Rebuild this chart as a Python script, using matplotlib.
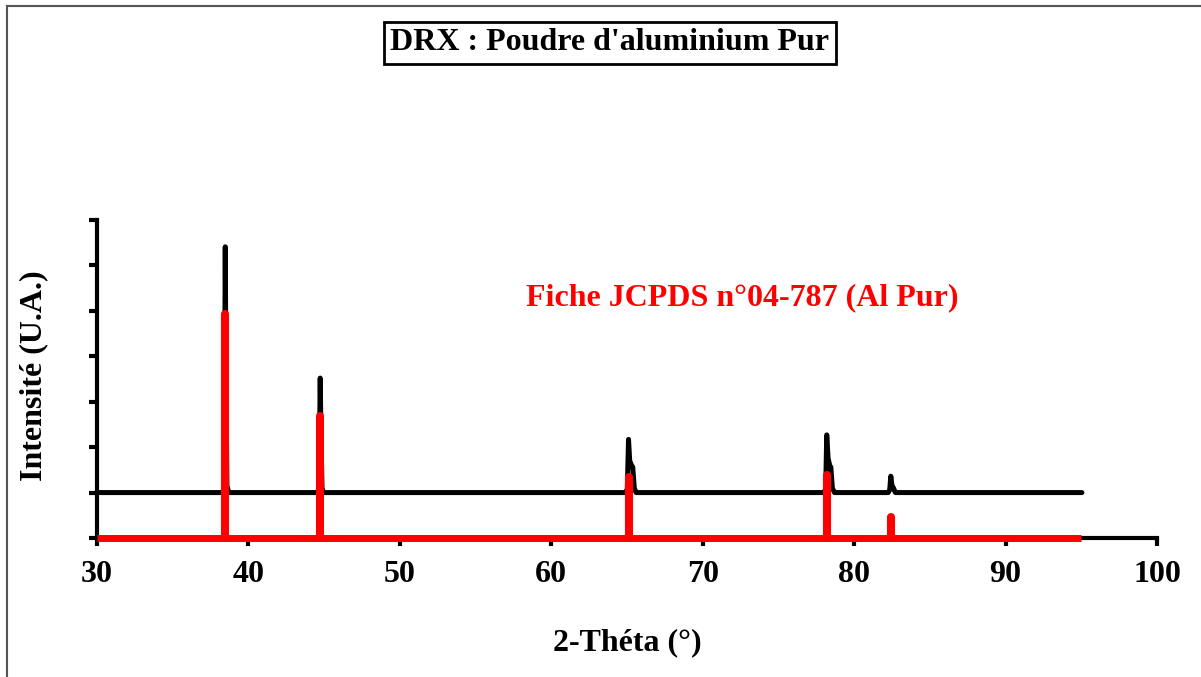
import numpy as np
import matplotlib
matplotlib.use("Agg")
import matplotlib.pyplot as plt
from matplotlib.lines import Line2D

plt.rcParams['font.family'] = ['Liberation Serif', 'DejaVu Serif']

# measured pattern (2-theta, intensity in arbitrary units, baseline at 1)
theta_meas = [30.0, 38.30, 38.40, 38.47, 38.52, 38.58, 38.70,
              44.55, 44.66, 44.74, 44.80, 44.86, 44.95,
              64.90, 65.02, 65.10, 65.18, 65.30, 65.38, 65.48, 65.60,
              78.00, 78.12, 78.19, 78.28, 78.40, 78.46, 78.56, 78.70,
              82.25, 82.35, 82.42, 82.50, 82.60, 82.72,
              95.04]
int_meas = [1.00, 1.00, 1.12, 6.41, 3.20, 1.15, 1.00,
            1.00, 1.10, 3.52, 2.10, 1.10, 1.00,
            1.00, 1.08, 2.17, 1.70, 1.60, 1.56, 1.10, 1.00,
            1.00, 1.08, 2.27, 1.75, 1.58, 1.56, 1.10, 1.00,
            1.00, 1.06, 1.36, 1.15, 1.10, 1.00,
            1.00]

# JCPDS 04-787 reference sticks
theta_ref = [38.47, 44.74, 65.13, 78.23, 82.44]
int_ref = [4.93, 2.69, 1.34, 1.39, 0.46]
ref_range = [30, 95]

x_ticks = [30, 40, 50, 60, 70, 80, 90, 100]
y_ticks = [0, 1, 2, 3, 4, 5, 6, 7]

FS = 23

fig = plt.figure(figsize=(12.01, 6.77), dpi=100)
ax = fig.add_axes([97 / 1201, 1 - 538 / 677, 1060 / 1201, 318 / 677])

ax.plot(theta_meas, int_meas, color='black', lw=3.6,
        solid_capstyle='round', solid_joinstyle='round', zorder=3)

ax.plot(ref_range, [0, 0], color='red', lw=5.0, solid_capstyle='butt',
        clip_on=False, zorder=4)
for t, h in zip(theta_ref, int_ref):
    ax.plot([t, t], [0, h], color='red', lw=5.8, solid_capstyle='round',
            clip_on=False, zorder=4)

ax.set_xlim(30, 100)
ax.set_ylim(0, 7)
ax.set_xticks(x_ticks)
ax.set_yticks(y_ticks)
ax.set_yticklabels([])
ax.tick_params(axis='both', direction='out', length=6, width=3, color='black')
ax.tick_params(axis='x', pad=10, labelsize=FS)
for lab in ax.get_xticklabels():
    lab.set_fontweight('bold')

for side in ['top', 'right']:
    ax.spines[side].set_visible(False)
for side in ['left', 'bottom']:
    ax.spines[side].set_linewidth(3)

ax.set_xlabel("2-Théta (°)", fontsize=FS, fontweight='bold', va='center')
ax.xaxis.set_label_coords(0.5, -0.33)
ax.set_ylabel("Intensité (U.A.)", fontsize=FS, fontweight='bold', va='center')
ax.yaxis.set_label_coords(-0.060, 0.51)

ax.text(72.64, 5.29, "Fiche JCPDS n°04-787 (Al Pur)", color='red',
        fontsize=FS, fontweight='bold', ha='center', va='center')

fig.text(610 / 1201, 1 - 43 / 677, "DRX : Poudre d'aluminium Pur",
         fontsize=FS, fontweight='bold', ha='center', va='center',
         bbox=dict(boxstyle='square,pad=0.2', fc='white', ec='black', lw=2))

# outer frame (top and left edges)
fig.add_artist(Line2D([7 / 1201, 1], [1 - 6 / 677, 1 - 6 / 677],
                      transform=fig.transFigure, color='#555555', lw=1.5))
fig.add_artist(Line2D([7 / 1201, 7 / 1201], [0, 1 - 6 / 677],
                      transform=fig.transFigure, color='#555555', lw=1.5))

fig.savefig("out.png", dpi=100)
